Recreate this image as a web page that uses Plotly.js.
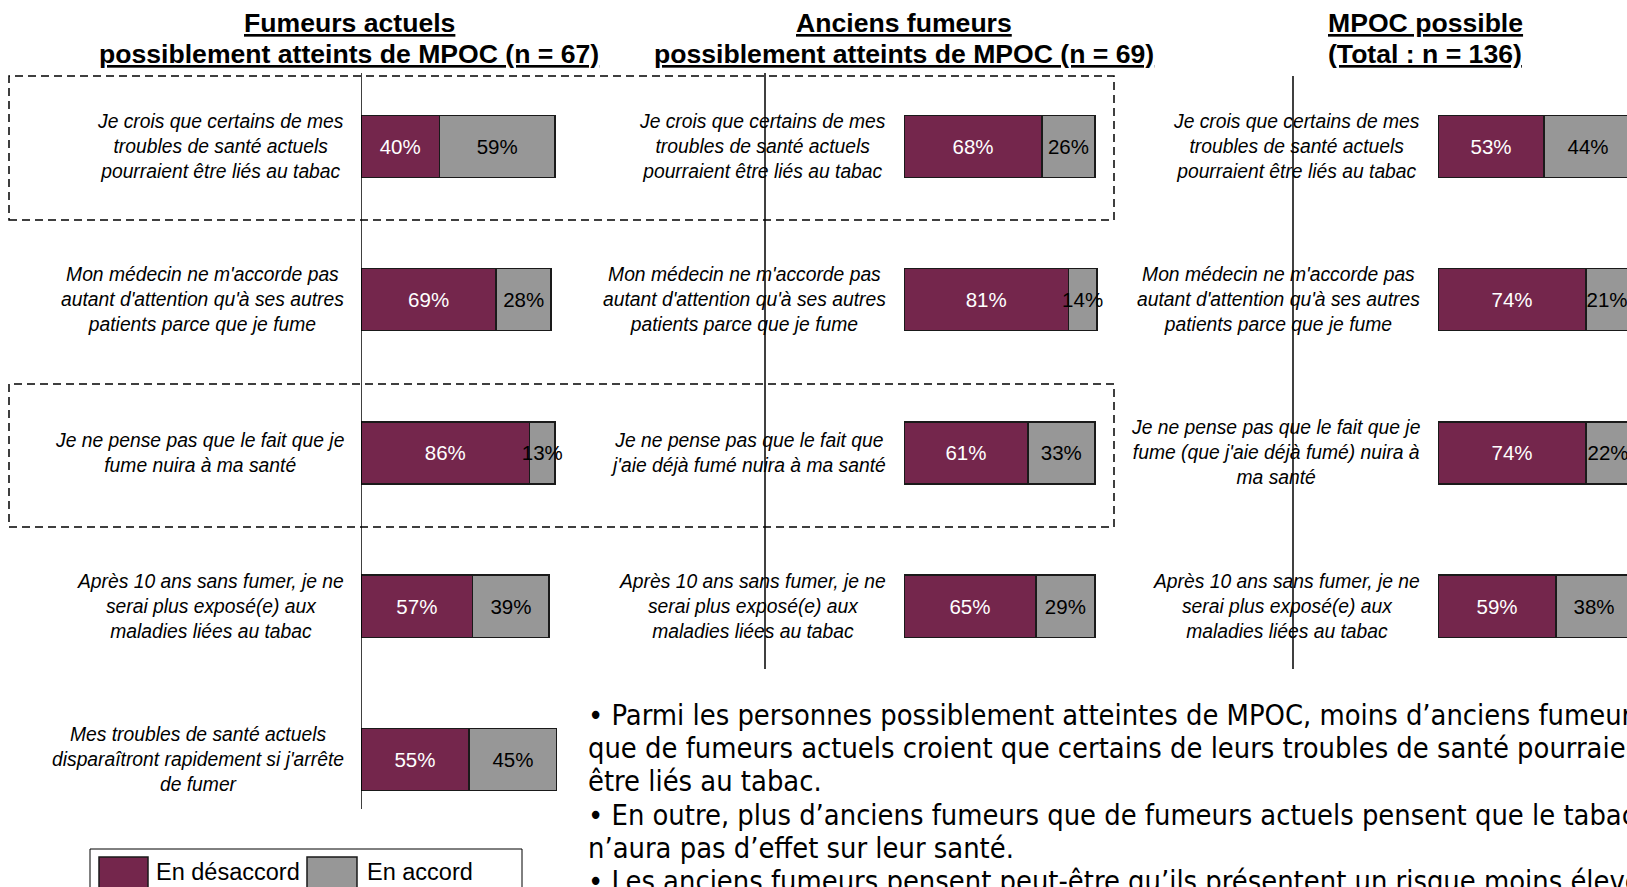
<!DOCTYPE html>
<html>
<head>
<meta charset="utf-8">
<script src="https://cdn.plot.ly/plotly-3.0.1.min.js"></script>
<style>html,body{margin:0;padding:0;background:#fff;overflow:hidden;width:1627px;height:887px;}#chart{width:1700px;height:887px;}</style>
</head>
<body>
<div id="chart"></div>
<script>
// ---------- DATA ----------
const seriesNames = ["En désaccord", "En accord"];

const panelTitles = [
  ["Fumeurs actuels", "possiblement atteints de MPOC (n = 67)"],
  ["Anciens fumeurs", "possiblement atteints de MPOC (n = 69)"],
  ["MPOC possible", "(Total : n = 136)"]
];

const labelsActuels = [
  "Je crois que certains de mes<br>troubles de santé actuels<br>pourraient être liés au tabac",
  "Mon médecin ne m'accorde pas<br>autant d'attention qu'à ses autres<br>patients parce que je fume",
  "Je ne pense pas que le fait que je<br>fume nuira à ma santé",
  "Après 10 ans sans fumer, je ne<br>serai plus exposé(e) aux<br>maladies liées au tabac",
  "Mes troubles de santé actuels<br>disparaîtront rapidement si j'arrête<br>de fumer"
];
const desaccordActuels = [40, 69, 86, 57, 55];
const accordActuels    = [59, 28, 13, 39, 45];

const labelsAnciens = [
  "Je crois que certains de mes<br>troubles de santé actuels<br>pourraient être liés au tabac",
  "Mon médecin ne m'accorde pas<br>autant d'attention qu'à ses autres<br>patients parce que je fume",
  "Je ne pense pas que le fait que<br>j'aie déjà fumé nuira à ma santé",
  "Après 10 ans sans fumer, je ne<br>serai plus exposé(e) aux<br>maladies liées au tabac"
];
const desaccordAnciens = [68, 81, 61, 65];
const accordAnciens    = [26, 14, 33, 29];

const labelsTotal = [
  "Je crois que certains de mes<br>troubles de santé actuels<br>pourraient être liés au tabac",
  "Mon médecin ne m'accorde pas<br>autant d'attention qu'à ses autres<br>patients parce que je fume",
  "Je ne pense pas que le fait que je<br>fume (que j'aie déjà fumé) nuira à<br>ma santé",
  "Après 10 ans sans fumer, je ne<br>serai plus exposé(e) aux<br>maladies liées au tabac"
];
const desaccordTotal = [53, 74, 74, 59];
const accordTotal    = [44, 21, 22, 38];

const bulletLines = [
  "• Parmi les personnes possiblement atteintes de MPOC, moins d’anciens fumeurs",
  "que de fumeurs actuels croient que certains de leurs troubles de santé pourraient",
  "être liés au tabac.",
  "• En outre, plus d’anciens fumeurs que de fumeurs actuels pensent que le tabac",
  "n’aura pas d’effet sur leur santé.",
  "• Les anciens fumeurs pensent peut-être qu’ils présentent un risque moins élevé"
];

// ---------- STYLE / LAYOUT ----------
const W = 1700, H = 887;           // drawing is wider than the window; the window crops the right side
const px = v => v / W;
const py = v => 1 - v / H;
const FONT = "Liberation Sans, Arial, sans-serif";
const NARROW = "DejaVu Sans Condensed, Liberation Sans Narrow, sans-serif";
const MAROON = "#74264c";
const GREY = "#979797";

const panels = [
  {labels: labelsActuels, d: desaccordActuels, a: accordActuels, xa: "x",  lblRight: 346,  titleX: 349},
  {labels: labelsAnciens, d: desaccordAnciens, a: accordAnciens, xa: "x2", lblRight: 888,  titleX: 904},
  {labels: labelsTotal,   d: desaccordTotal,   a: accordTotal,   xa: "x3", lblRight: 1422, titleX: 1425}
];

const traces = [];
const annotations = [];
panels.forEach((p, k) => {
  const ys = p.labels.map((_, i) => i);
  [[p.d, MAROON, "#ffffff", 0], [p.a, GREY, "#000000", 1]].forEach(([vals, col, tcol, s]) => {
    traces.push({
      type: "bar", orientation: "h", name: seriesNames[s],
      x: vals, y: ys, xaxis: p.xa, yaxis: "y",
      width: 0.405,
      marker: {color: col, line: {color: "#1a1a1a", width: 1.5}},
      text: vals.map(v => v + "%"), textposition: "inside", insidetextanchor: "middle",
      textangle: 0, constraintext: "none",
      insidetextfont: {family: FONT, size: 20.5, color: tcol},
      cliponaxis: false, showlegend: false, hoverinfo: "skip"
    });
  });
  p.labels.forEach((lab, i) => {
    annotations.push({
      xref: "paper", yref: "y", x: px(p.lblRight), y: i,
      xanchor: "right", yanchor: "middle", align: "center",
      text: "<i>" + lab + "</i>", showarrow: false,
      font: {family: FONT, size: 19.3, color: "#000"}
    });
  });
  [23, 54].forEach((yy, j) => {
    annotations.push({
      xref: "paper", yref: "paper", x: px(p.titleX), y: py(yy), xanchor: "center", yanchor: "middle",
      text: "<b><u>" + panelTitles[k][j] + "</u></b>", showarrow: false,
      font: {family: FONT, size: 26.6, color: "#000"}
    });
  });
});

// bullet text, one line each
const bulletY = [715, 748, 781, 815, 848, 881];
bulletLines.forEach((t, i) => {
  annotations.push({
    xref: "paper", yref: "paper", x: px(586), y: py(bulletY[i]), xanchor: "left", yanchor: "middle", align: "left",
    text: t, showarrow: false,
    font: {family: NARROW, size: 28.8, color: "#000"}
  });
});

// legend (manual, styled like reference)
annotations.push({xref: "paper", yref: "paper", x: px(154), y: py(872), xanchor: "left", yanchor: "middle",
  text: seriesNames[0], showarrow: false, font: {family: FONT, size: 23.5, color: "#000"}});
annotations.push({xref: "paper", yref: "paper", x: px(365), y: py(872), xanchor: "left", yanchor: "middle",
  text: seriesNames[1], showarrow: false, font: {family: FONT, size: 23.5, color: "#000"}});

const shapes = [
  // vertical axis lines
  {type: "line", xref: "x", yref: "paper", x0: 0, x1: 0, y0: py(809), y1: py(73), line: {color: "#000", width: 1.5}},
  {type: "line", xref: "paper", yref: "paper", x0: px(765), x1: px(765), y0: py(669), y1: py(73), line: {color: "#000", width: 1.5}},
  {type: "line", xref: "paper", yref: "paper", x0: px(1293), x1: px(1293), y0: py(669), y1: py(76), line: {color: "#000", width: 1.5}},
  // dashed highlight boxes
  {type: "rect", xref: "paper", yref: "paper", x0: px(9), x1: px(1114), y0: py(220), y1: py(76), line: {color: "#000", width: 1.5, dash: "8px,5px"}, fillcolor: "rgba(0,0,0,0)"},
  {type: "rect", xref: "paper", yref: "paper", x0: px(9), x1: px(1114), y0: py(527), y1: py(384), line: {color: "#000", width: 1.5, dash: "8px,5px"}, fillcolor: "rgba(0,0,0,0)"},
  // legend box and swatches
  {type: "rect", xref: "paper", yref: "paper", x0: px(90), x1: px(522), y0: py(905), y1: py(849), line: {color: "#000", width: 1}, fillcolor: "rgba(0,0,0,0)"},
  {type: "rect", xref: "paper", yref: "paper", x0: px(99), x1: px(148), y0: py(895), y1: py(857), line: {color: "#1a1a1a", width: 1.5}, fillcolor: MAROON},
  {type: "rect", xref: "paper", yref: "paper", x0: px(307), x1: px(357), y0: py(895), y1: py(857), line: {color: "#1a1a1a", width: 1.5}, fillcolor: GREY}
];

const hidden = {showgrid: false, zeroline: false, showticklabels: false, showline: false, ticks: "", fixedrange: true};
const layout = {
  width: W, height: H,
  margin: {l: 0, r: 0, t: 0, b: 0},
  paper_bgcolor: "#fff", plot_bgcolor: "rgba(0,0,0,0)",
  barmode: "stack",
  showlegend: false,
  font: {family: FONT},
  xaxis:  Object.assign({}, hidden, {domain: [px(361), px(557)], range: [0, 100], anchor: "y"}),
  xaxis2: Object.assign({}, hidden, {domain: [px(904), px(1107)], range: [0, 100], anchor: "y"}),
  xaxis3: Object.assign({}, hidden, {domain: [px(1438), px(1638)], range: [0, 100], anchor: "y"}),
  yaxis:  Object.assign({}, hidden, {domain: [py(836.2), py(69.7)], range: [4.5, -0.5]}),
  shapes: shapes,
  annotations: annotations
};

Plotly.newPlot("chart", traces, layout, {staticPlot: true, displayModeBar: false});
</script>
</body>
</html>
